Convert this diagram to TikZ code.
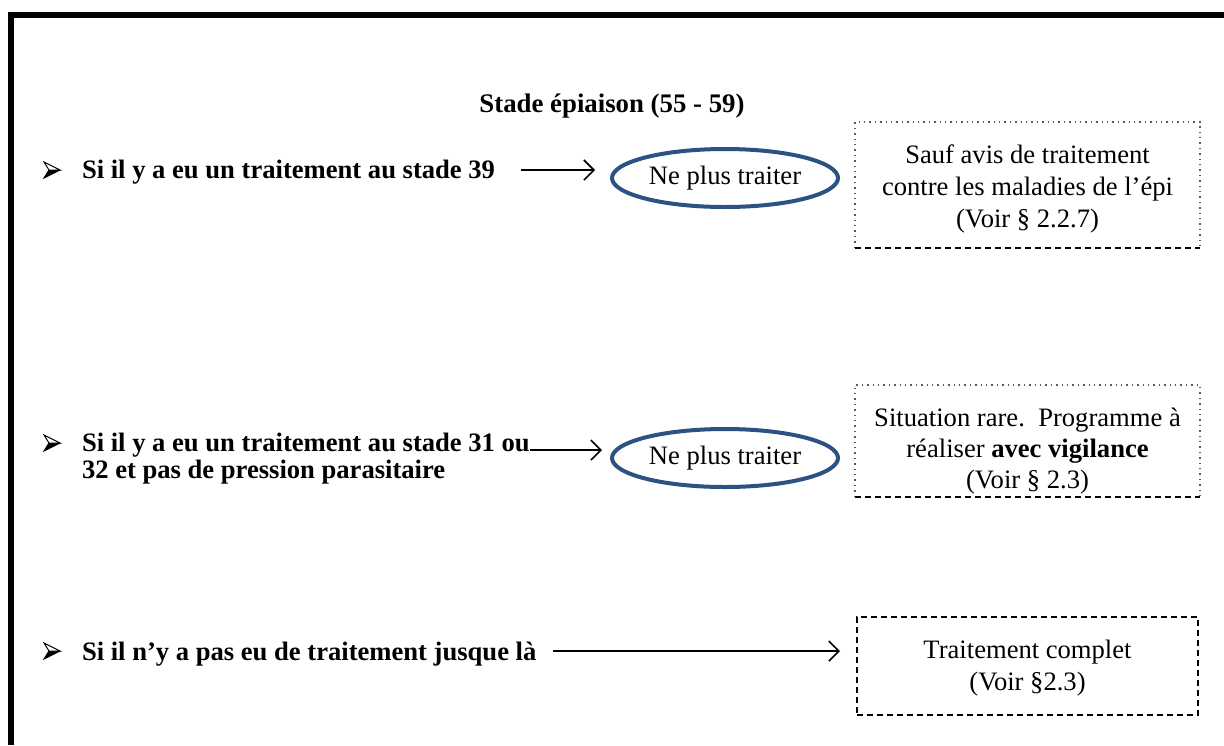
\documentclass[tikz,border=0pt]{standalone}
\usepackage{fontspec}
\setmainfont{Liberation Serif}
\usetikzlibrary{shapes.geometric,arrows.meta}
\definecolor{ellblue}{RGB}{44,82,130}
\definecolor{dotgray}{RGB}{90,90,90}
\begin{document}
\begin{tikzpicture}[x=0.5pt,y=-0.5pt,
  every node/.style={inner sep=0pt, outer sep=0pt},
  lbl/.style={anchor=base west, font=\fontsize{13.3}{13.5}\selectfont\bfseries, align=left},
  titlestyle/.style={anchor=base, font=\fontsize{13.4}{16}\selectfont\bfseries},
  oval/.style={ellipse, draw=ellblue, line width=2pt, minimum width=113pt, minimum height=29pt, font=\fontsize{13.3}{16}\selectfont},
  notebox/.style={minimum width=172.5pt},
  notetxt/.style={align=center, font=\fontsize{13.3}{16}\selectfont},
  notetxtb/.style={align=center, font=\fontsize{13.3}{15.5}\selectfont},
  arr/.style={-{Straight Barb[length=5pt,width=10pt]}, line width=0.8pt},
  dotb/.style={dotted, line width=0.7pt, draw=dotgray},
  dashb/.style={dash pattern=on 3pt off 2pt, line width=0.8pt},
  dashthick/.style={draw, dash pattern=on 3pt off 2pt, line width=1.2pt},
  bul/.pic={
    \fill[black] (8,0) -- (-3,0) -- (-8,8) -- cycle;
    \draw[line width=0.5pt, fill=white] (8,0) -- (-8,-8) -- (-3,0) -- cycle;
    \draw[line width=0.5pt] (8,0) -- (-8,8) -- (-3,0);
  }
]
\useasboundingbox (0,0) rectangle (1224,745);
% frame
\fill (8,12) rectangle (1224,18);
\fill (8,12) rectangle (14,745);

\node[titlestyle] (title) at (612,112) {Stade épiaison (55 - 59)};

% row 1
\pic at (52,170) {bul};
\node[lbl] (l1) at (82,178) {Si il y a eu un traitement au stade 39};
\node[oval] (e1) at (725,178) {Ne plus traiter};
\coordinate (a1) at (521,170);
\draw[arr, shorten >=8.5pt] (a1) -- (a1 -| e1.west);
\node[notebox, minimum height=63pt] (b1) at (1027.5,185) {};
\draw[dotb] (b1.south west) -- (b1.north west) -- (b1.north east) -- (b1.south east);
\draw[dashb] (b1.south west) -- (b1.south east);
\node[notetxt] (t1) at (1027.5,189) {Sauf avis de traitement\\contre les maladies de l’épi\\(Voir § 2.2.7)};

% row 2
\pic at (52,443) {bul};
\node[lbl] (l2) at (82,478) {Si il y a eu un traitement au stade 31 ou\\32 et pas de pression parasitaire};
\node[oval] (e2) at (725,458) {Ne plus traiter};
\coordinate (a2) at (530,450);
\draw[arr, shorten >=5pt] (a2) -- (a2 -| e2.west);
\node[notebox, minimum height=56pt] (b2) at (1027.5,441) {};
\draw[dotb] (b2.south west) -- (b2.north west) -- (b2.north east) -- (b2.south east);
\draw[dashb] (b2.south west) -- (b2.south east);
\node[notetxtb] (t2) at (1027.5,451) {Situation rare.\ \ Programme à\\réaliser \textbf{avec vigilance}\\(Voir § 2.3)};

% row 3
\pic at (52,651) {bul};
\node[lbl] (l3) at (82,660) {Si il n’y a pas eu de traitement jusque là};
\node[dashthick, minimum width=170.5pt, minimum height=49pt] (b3) at (1027.5,666) {};
\node[notetxt] (t3) at (1027.5,668) {Traitement complet\\(Voir §2.3)};
\coordinate (a3) at (553,651);
\draw[arr, shorten >=8.5pt] (a3) -- (a3 -| b3.west);
\end{tikzpicture}
\end{document}
